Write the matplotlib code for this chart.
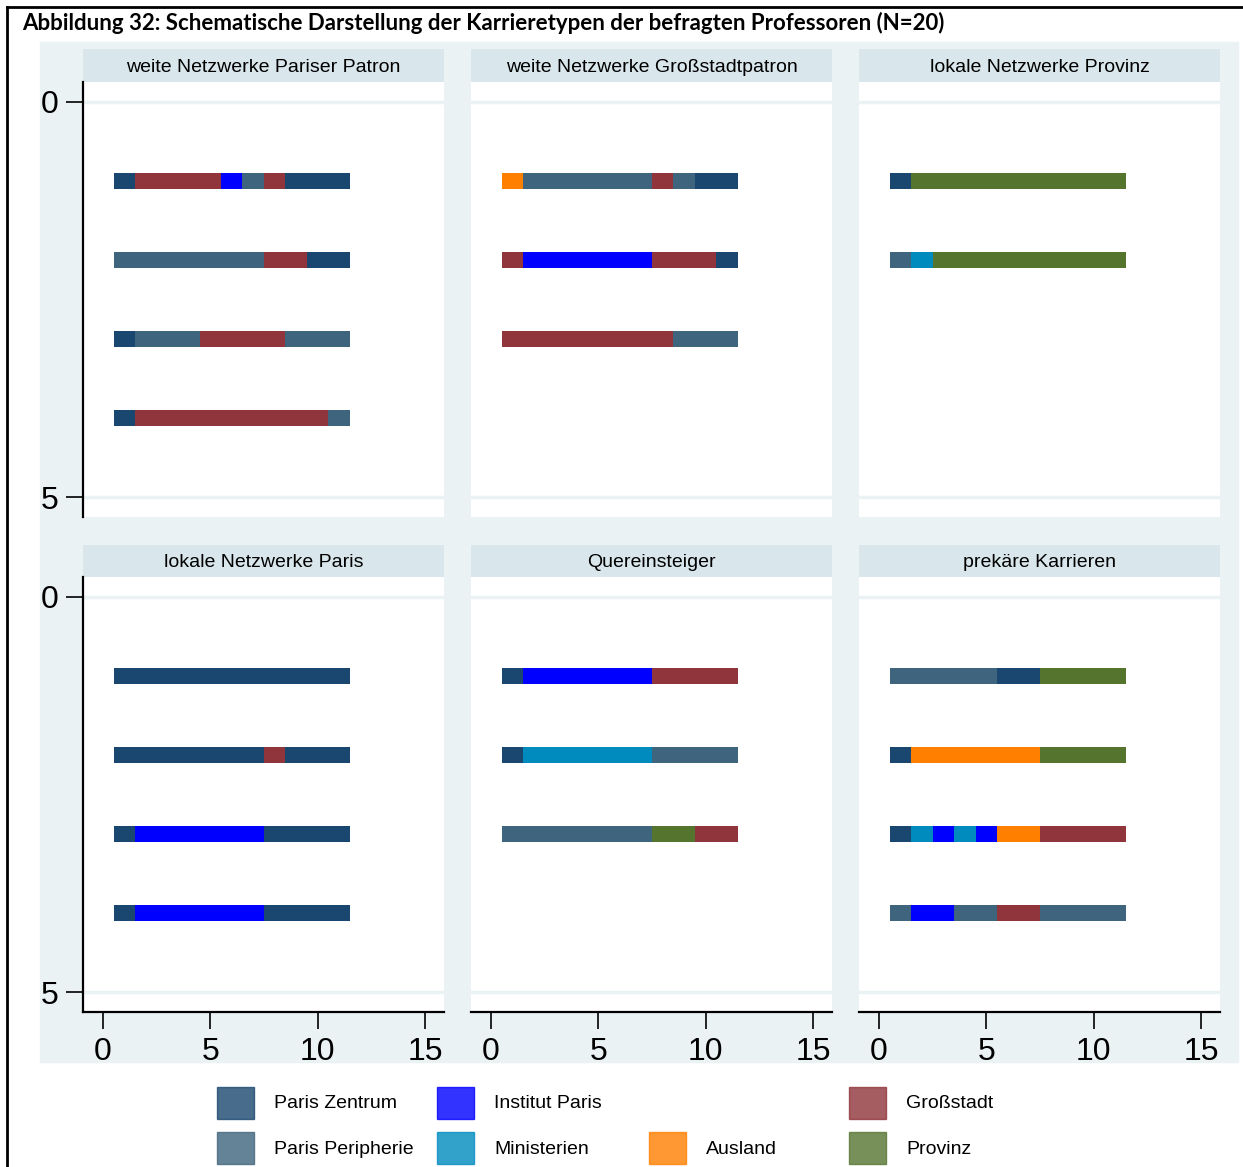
"""Schematische Darstellung der Karrieretypen (Stata-style small multiples)."""

import matplotlib

matplotlib.use("Agg")
import matplotlib.pyplot as plt
from matplotlib.lines import Line2D
from matplotlib.patches import Rectangle

W, H = 1243, 1167

TITLE = "Abbildung 32: Schematische Darstellung der Karrieretypen der befragten Professoren (N=20)"

PANEL_TITLES = [
    "weite Netzwerke Pariser Patron",
    "weite Netzwerke Großstadtpatron",
    "lokale Netzwerke Provinz",
    "lokale Netzwerke Paris",
    "Quereinsteiger",
    "prekäre Karrieren",
]

# one string per professor, one letter per career stage 1..11
CAREERS = [
    ["ZGGGGIPGZZZ", "PPPPPPPGGZZ", "ZPPPGGGGPPP", "ZGGGGGGGGGP"],
    ["APPPPPPGPZZ", "GIIIIIIGGGZ", "GGGGGGGGPPP"],
    ["ZVVVVVVVVVV", "PMVVVVVVVVV"],
    ["ZZZZZZZZZZZ", "ZZZZZZZGZZZ", "ZIIIIIIZZZZ", "ZIIIIIIZZZZ"],
    ["ZIIIIIIGGGG", "ZMMMMMMPPPP", "PPPPPPPVVGG"],
    ["PPPPPZZVVVV", "ZAAAAAAVVVV", "ZMIMIAAGGGG", "PIIPPGGPPPP"],
]

CATEGORIES = {
    "Z": ("Paris Zentrum", "#1a476f"),
    "P": ("Paris Peripherie", "#3f647d"),
    "I": ("Institut Paris", "#0000ff"),
    "M": ("Ministerien", "#008bbf"),
    "A": ("Ausland", "#ff7f00"),
    "G": ("Großstadt", "#90353b"),
    "V": ("Provinz", "#55752f"),
}

# legend slots: (column, row, code); column 3 row 1 stays empty
LEGEND_SLOTS = [
    (0, 0, "Z"), (0, 1, "P"),
    (1, 0, "I"), (1, 1, "M"),
    (2, 1, "A"),
    (3, 0, "G"), (3, 1, "V"),
]

BG = "#eaf2f3"
STRIP = "#d9e6eb"
FONT = "Liberation Sans"


def fig_rect(x, y, w, h):
    """pixel box (top-left origin) -> figure fraction rect"""
    return [x / W, 1 - (y + h) / H, w / W, h / H]


def runs(seq):
    out = []
    start = 0
    for i in range(1, len(seq) + 1):
        if i == len(seq) or seq[i] != seq[start]:
            out.append((start + 1, i - start, seq[start]))
            start = i
    return out


fig = plt.figure(figsize=(W / 100, H / 100), dpi=100)
fig.patch.set_facecolor("white")

# graph region background
fig.add_artist(Rectangle((40 / W, 1 - 1062 / H), (1238 - 40) / W, (1062 - 42) / H,
                         transform=fig.transFigure, color=BG, zorder=0))

# outer frame (left + top)
fig.add_artist(Line2D([7 / W, 7 / W], [0, 1 - 7 / H], transform=fig.transFigure,
                      color="black", lw=2))
fig.add_artist(Line2D([7 / W, 1], [1 - 7 / H, 1 - 7 / H], transform=fig.transFigure,
                      color="black", lw=2))

fig.text(22 / W, 1 - 23 / H, TITLE, fontsize=16, fontweight="bold", family="Lato",
         va="center", ha="left")

col_x = [83, 471, 859]
row_strip_y = [49, 545]
row_plot_y = [82, 577]
panel_w = 361
plot_h = 435

for idx, (title, careers) in enumerate(zip(PANEL_TITLES, CAREERS)):
    r, c = divmod(idx, 3)
    x0 = col_x[c]

    sax = fig.add_axes(fig_rect(x0, row_strip_y[r], panel_w, row_plot_y[r] - row_strip_y[r]))
    sax.set_facecolor(STRIP)
    sax.set_xticks([])
    sax.set_yticks([])
    for s in sax.spines.values():
        s.set_visible(False)
    sax.text(0.5, 0.45, title, ha="center", va="center", fontsize=14, family=FONT,
             transform=sax.transAxes)

    ax = fig.add_axes(fig_rect(x0, row_plot_y[r], panel_w, plot_h))
    ax.set_facecolor("white")
    for y in (0, 5):
        ax.axhline(y, color=BG, lw=2.5, zorder=1)

    for i, seq in enumerate(careers, start=1):
        for start, length, code in runs(seq):
            ax.barh(i, length, left=start - 0.5, height=0.2,
                    color=CATEGORIES[code][1], linewidth=0, zorder=2)

    ax.set_xlim(-0.93, 15.89)
    ax.set_ylim(5.25, -0.25)
    ax.set_xticks([0, 5, 10, 15])
    ax.set_yticks([0, 5])
    ax.tick_params(length=12, width=1.2, labelsize=23, pad=6, color="black")
    for lab in ax.get_xticklabels() + ax.get_yticklabels():
        lab.set_family(FONT)

    for s in ("top", "right"):
        ax.spines[s].set_visible(False)
    ax.spines["left"].set_visible(c == 0)
    ax.spines["bottom"].set_visible(r == 1)
    ax.spines["left"].set_linewidth(1.6)
    ax.spines["bottom"].set_linewidth(1.6)
    if c != 0:
        ax.tick_params(axis="y", left=False, labelleft=False)
    if r == 0:
        ax.tick_params(axis="x", bottom=False, labelbottom=False)

# legend
lax = fig.add_axes([0, 0, 1, 1], zorder=5)
lax.set_xlim(0, W)
lax.set_ylim(H, 0)
lax.axis("off")
patch_x = [217, 437, 649, 849]
text_x = [274, 494, 706, 906]
row_y = [1103, 1148]
for col, row, code in LEGEND_SLOTS:
    name, color = CATEGORIES[code]
    lax.add_patch(Rectangle((patch_x[col], row_y[row] - 16), 37, 32,
                            facecolor=color, alpha=0.8, edgecolor=color, lw=1))
    lax.text(text_x[col], row_y[row] + 1, name, fontsize=14, family=FONT,
             va="center", ha="left")

fig.savefig("out.png", dpi=100)
